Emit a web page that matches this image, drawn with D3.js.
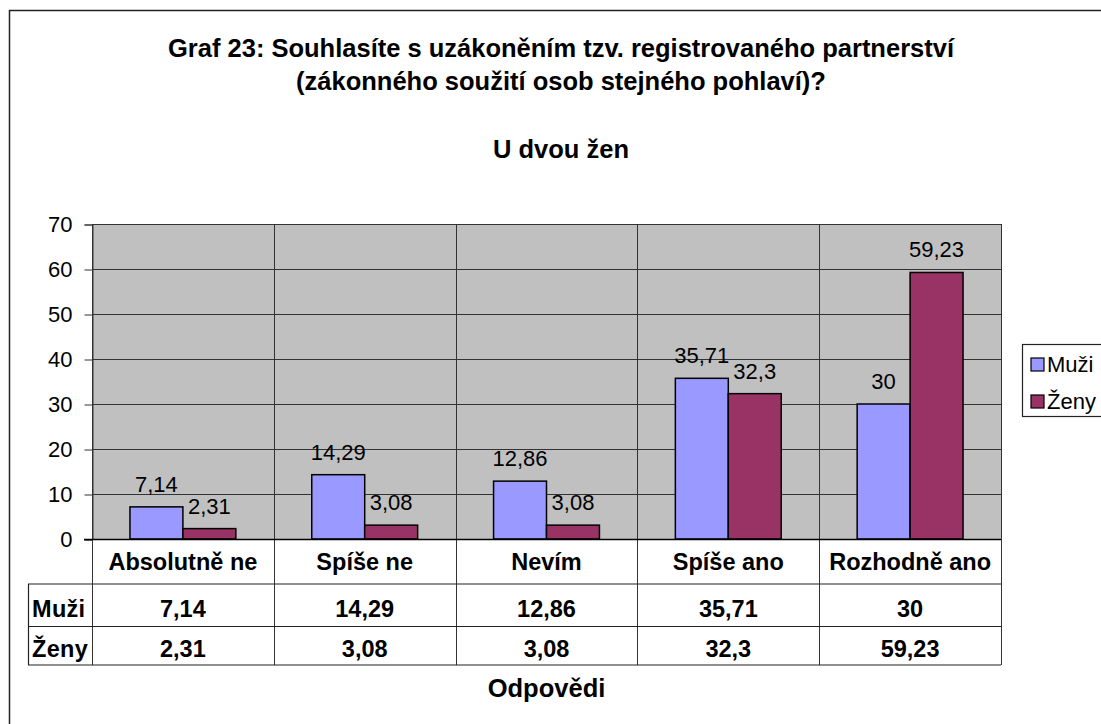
<!DOCTYPE html>
<html lang="cs">
<head>
<meta charset="UTF-8">
<title>Graf 23</title>
<script src="https://d3js.org/d3.v7.min.js"></script>
<style>
  body { margin:0; background:#fff; }
  svg { display:block; font-family:"Liberation Sans", Arial, sans-serif; }
  .bold { font-weight:bold; }
</style>
</head>
<body>
<svg width="1101" height="724"></svg>
<script>
const categories = ['Absolutně ne', 'Spíše ne', 'Nevím', 'Spíše ano', 'Rozhodně ano'];
const series = ['Muži', 'Ženy'];
const muzi = [7.14, 14.29, 12.86, 35.71, 30];
const zeny = [2.31, 3.08, 3.08, 32.3, 59.23];
const yTicks = [0, 10, 20, 30, 40, 50, 60, 70];
const colors = ['#9999FF', '#993366'];

const values = { 'Muži': muzi, 'Ženy': zeny };
const fmt = v => String(v).replace('.', ',');

const svg = d3.select('svg');

// outer frame (runs past the right/bottom edge like the original)
svg.append('rect')
  .attr('x', 9.5).attr('y', 10.5)
  .attr('width', 1300).attr('height', 900)
  .attr('fill', 'none').attr('stroke', '#222').attr('stroke-width', 1.5);

// titles
const titles = [
  { t: 'Graf 23: Souhlasíte s uzákoněním tzv. registrovaného partnerství', y: 57 },
  { t: '(zákonného soužití osob stejného pohlaví)?', y: 90 },
  { t: 'U dvou žen', y: 158 }
];
svg.append('g').selectAll('text').data(titles).join('text')
  .attr('class', 'bold')
  .attr('x', 561).attr('y', d => d.y)
  .attr('text-anchor', 'middle')
  .attr('font-size', 25.5)
  .text(d => d.t);

// scales
const x0 = d3.scaleBand().domain(categories).range([92, 1001]);
const x1 = d3.scaleBand().domain(series).range([0, x0.bandwidth()]).paddingOuter(0.717);
const y = d3.scaleLinear().domain([0, 70]).range([539, 224]);

// plot background
svg.append('rect')
  .attr('x', 92).attr('y', y(70))
  .attr('width', 1001 - 92).attr('height', y(0) - y(70))
  .attr('fill', '#C0C0C0');

// horizontal gridlines
svg.append('g').selectAll('line').data(yTicks.filter(d => d > 0)).join('line')
  .attr('x1', 92).attr('x2', 1001)
  .attr('y1', d => Math.round(y(d)) + 0.5).attr('y2', d => Math.round(y(d)) + 0.5)
  .attr('stroke', '#333').attr('stroke-width', 1);

// y axis
const yAxis = d3.axisLeft(y).tickValues(yTicks).tickSize(8).tickPadding(12);
const gy = svg.append('g').attr('transform', 'translate(92.5,0.5)').call(yAxis);
gy.select('.domain').attr('stroke', '#333');
gy.selectAll('.tick line').attr('stroke', '#333');
gy.selectAll('.tick text')
  .attr('font-size', 22).attr('fill', '#000')
  .attr('font-family', '"Liberation Sans", Arial, sans-serif');

// vertical category separators through plot and table
const bounds = categories.map(c => x0(c)).concat([1001]);
svg.append('g').selectAll('line').data(bounds).join('line')
  .attr('x1', d => Math.round(d) + 0.5).attr('x2', d => Math.round(d) + 0.5)
  .attr('y1', y(70)).attr('y2', 665)
  .attr('stroke', '#333').attr('stroke-width', 1);

// bars
const groups = svg.append('g').selectAll('g').data(categories).join('g')
  .attr('transform', c => `translate(${x0(c)},0)`);
groups.selectAll('rect')
  .data((c, i) => series.map((s, k) => ({ s, k, v: values[s][i] })))
  .join('rect')
  .attr('x', d => x1(d.s)).attr('width', x1.bandwidth())
  .attr('y', d => y(d.v)).attr('height', d => y(0) - y(d.v))
  .attr('fill', d => colors[d.k])
  .attr('stroke', '#000').attr('stroke-width', 1.5);

// value labels
groups.selectAll('text')
  .data((c, i) => series.map((s, k) => ({ s, k, v: values[s][i] })))
  .join('text')
  .attr('x', d => x1(d.s) + x1.bandwidth() / 2)
  .attr('y', d => y(d.v) - 15)
  .attr('text-anchor', 'middle')
  .attr('font-size', 22)
  .text(d => fmt(d.v));

// zero axis line
svg.append('line')
  .attr('x1', 84).attr('x2', 1001)
  .attr('y1', y(0) + 0.5).attr('y2', y(0) + 0.5)
  .attr('stroke', '#000').attr('stroke-width', 1.5);

// data table
const rowY = [584, 626.5, 665];
svg.append('g').selectAll('line').data(rowY).join('line')
  .attr('x1', 28).attr('x2', 1001)
  .attr('y1', d => d).attr('y2', d => d)
  .attr('stroke', '#222').attr('stroke-width', 1.2);
svg.append('line')
  .attr('x1', 28.5).attr('x2', 28.5).attr('y1', 584).attr('y2', 665)
  .attr('stroke', '#222').attr('stroke-width', 1.2);

svg.append('g').selectAll('text').data(categories).join('text')
  .attr('class', 'bold')
  .attr('x', c => x0(c) + x0.bandwidth() / 2).attr('y', 570)
  .attr('text-anchor', 'middle').attr('font-size', 23.5)
  .text(c => c);

const rowBase = [617, 657];
series.forEach((s, k) => {
  svg.append('text').attr('class', 'bold')
    .attr('x', 32).attr('y', rowBase[k]).attr('font-size', 23.5)
    .attr('letter-spacing', 0.3)
    .text(s);
  svg.append('g').selectAll('text').data(categories).join('text')
    .attr('class', 'bold')
    .attr('x', c => x0(c) + x0.bandwidth() / 2).attr('y', rowBase[k])
    .attr('text-anchor', 'middle').attr('font-size', 23.5)
    .text((c, i) => fmt(values[s][i]));
});

// axis title
svg.append('text').attr('class', 'bold')
  .attr('x', (92 + 1001) / 2).attr('y', 697)
  .attr('text-anchor', 'middle').attr('font-size', 25.5)
  .text('Odpovědi');

// legend
const lg = svg.append('g');
lg.append('rect')
  .attr('x', 1022.5).attr('y', 344.5).attr('width', 120).attr('height', 72)
  .attr('fill', '#fff').attr('stroke', '#222').attr('stroke-width', 1.2);
const li = lg.selectAll('g').data(series).join('g')
  .attr('transform', (s, k) => `translate(1031,${358 + k * 37})`);
li.append('rect').attr('width', 13).attr('height', 13)
  .attr('fill', (s, k) => colors[k]).attr('stroke', '#000').attr('stroke-width', 1.2);
li.append('text').attr('x', 16).attr('y', 14).attr('font-size', 22).text(s => s);
</script>
</body>
</html>
